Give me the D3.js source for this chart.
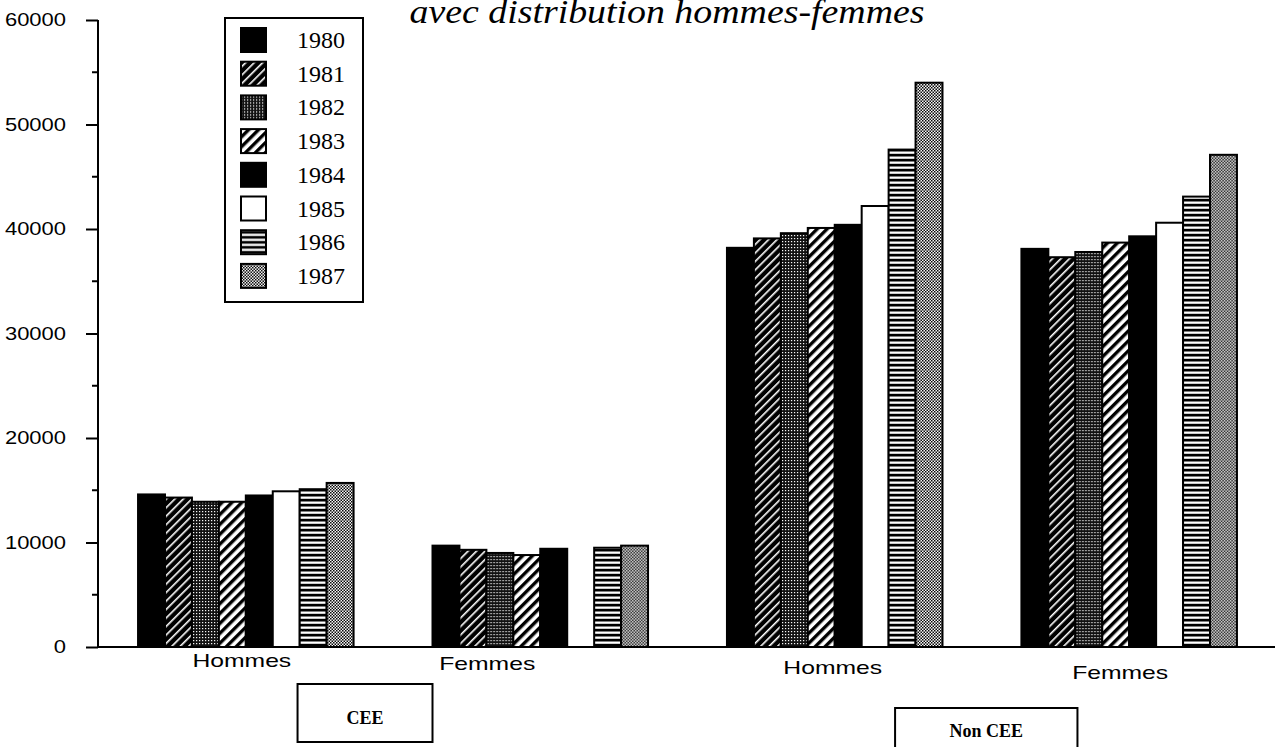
<!DOCTYPE html>
<meta charset="utf-8">
<style>
    body { margin: 0; background: #fff; }
    .axis path, .axis line { stroke: #000; stroke-width: 2px; }
    .axis text { font-family: Arial, "Liberation Sans", sans-serif; font-size: 18px; fill: #000; }
    .bar { stroke: #000; stroke-width: 2px; }
</style>
<svg width="1281" height="747"></svg>
<script src="https://d3js.org/d3.v7.min.js"></script>
<script>
    // values
    var groups = ["CEE Hommes", "CEE Femmes", "Non CEE Hommes", "Non CEE Femmes"];
    var years = ["1980", "1981", "1982", "1983", "1984", "1985", "1986", "1987"];
    var ceeHommes    = [14600, 14300, 13900, 13900, 14500, 14900, 15100, 15700];
    var ceeFemmes    = [9700, 9300, 9000, 8800, 9400, null, 9500, 9700];
    var nonCeeHommes = [38200, 39100, 39600, 40100, 40400, 42200, 47600, 54000];
    var nonCeeFemmes = [38100, 37300, 37800, 38700, 39300, 40600, 43100, 47100];
    var groupLabels = ["Hommes", "Femmes", "Hommes", "Femmes"];
    var yTicks = [0, 10000, 20000, 30000, 40000, 50000, 60000];

    var series = [ceeHommes, ceeFemmes, nonCeeHommes, nonCeeFemmes];

    var svg = d3.select("svg");
    var defs = svg.append("defs");

    // fill patterns, one per year
    function hatch(id, bg, fg, size, w) {
        var p = defs.append("pattern").attr("id", id)
            .attr("patternUnits", "userSpaceOnUse")
            .attr("width", size).attr("height", size)
            .attr("patternTransform", "rotate(45)");
        p.append("rect").attr("width", size).attr("height", size).attr("fill", bg);
        p.append("rect").attr("x", 0).attr("width", w).attr("height", size).attr("fill", fg);
    }
    hatch("p1981", "#000", "#fff", 6, 1.6);
    hatch("p1983", "#fff", "#000", 7, 3.4);

    var p82 = defs.append("pattern").attr("id", "p1982")
        .attr("patternUnits", "userSpaceOnUse").attr("width", 3).attr("height", 3);
    p82.append("rect").attr("width", 3).attr("height", 3).attr("fill", "#111");
    p82.append("rect").attr("x", 1).attr("y", 1).attr("width", 1.2).attr("height", 1.2).attr("fill", "#fff");

    var p86 = defs.append("pattern").attr("id", "p1986")
        .attr("patternUnits", "userSpaceOnUse").attr("width", 5).attr("height", 5);
    p86.append("rect").attr("width", 5).attr("height", 5).attr("fill", "#000");
    p86.append("rect").attr("y", 1.5).attr("width", 5).attr("height", 2.3).attr("fill", "#fff");

    var p87 = defs.append("pattern").attr("id", "p1987")
        .attr("patternUnits", "userSpaceOnUse").attr("width", 3).attr("height", 3);
    p87.append("rect").attr("width", 3).attr("height", 3).attr("fill", "#fff");
    p87.append("rect").attr("width", 1.5).attr("height", 1.5).attr("fill", "#000");
    p87.append("rect").attr("x", 1.5).attr("y", 1.5).attr("width", 1.5).attr("height", 1.5).attr("fill", "#000");

    var fills = ["#000", "url(#p1981)", "url(#p1982)", "url(#p1983)", "#000", "#fff", "url(#p1986)", "url(#p1987)"];

    var x0 = d3.scaleBand().domain(groups).range([98, 1277]).paddingInner(0.268).paddingOuter(0.136);
    var x1 = d3.scaleBand().domain(years).range([0, x0.bandwidth()]);
    var y = d3.scaleLinear().domain([0, 60000]).range([647, 20]);
    var color = d3.scaleOrdinal().domain(years).range(fills);

    // stretch helvetica-ish labels like the scan
    function widen(sel, k) {
        sel.each(function() {
            var w = this.getComputedTextLength();
            d3.select(this).attr("textLength", w * k).attr("lengthAdjust", "spacingAndGlyphs");
        });
    }

    // title, its top is cut off by the page edge
    svg.append("text")
        .attr("x", 667).attr("y", 23)
        .attr("text-anchor", "middle")
        .attr("font-family", "'Liberation Serif', 'Times New Roman', serif")
        .attr("font-style", "italic")
        .attr("font-size", 34)
        .attr("textLength", 515)
        .attr("lengthAdjust", "spacingAndGlyphs")
        .text("avec distribution hommes-femmes");

    // bars
    var g = svg.selectAll(".grp")
        .data(groups)
        .enter().append("g")
        .attr("class", "grp")
        .attr("transform", function(d) { return "translate(" + x0(d) + ",0)"; });

    g.selectAll("rect")
        .data(function(d, i) {
            return years.map(function(yr, j) { return { year: yr, value: series[i][j] }; })
                .filter(function(e) { return e.value != null; });
        })
        .enter().append("rect")
        .attr("class", "bar")
        .attr("x", function(d) { return x1(d.year); })
        .attr("y", function(d) { return y(d.value); })
        .attr("width", x1.bandwidth())
        .attr("height", function(d) { return y(0) - y(d.value); })
        .attr("fill", function(d) { return color(d.year); });

    // y axis with minor ticks
    var yAxis = svg.append("g")
        .attr("class", "axis")
        .attr("transform", "translate(98,0)")
        .call(d3.axisLeft(y).tickValues(yTicks).tickSize(12).tickPadding(20).tickFormat(d3.format("d")));
    yAxis.select(".domain").attr("d", "M0," + y(60000) + "V" + y(0));
    yAxis.selectAll("text").call(widen, 1.22);

    svg.append("g")
        .selectAll("line")
        .data(d3.range(5000, 60000, 10000))
        .enter().append("line")
        .attr("x1", 92).attr("x2", 98)
        .attr("y1", function(d) { return y(d); })
        .attr("y2", function(d) { return y(d); })
        .attr("stroke", "#000").attr("stroke-width", 2);

    // x axis line
    svg.append("line")
        .attr("x1", 97).attr("x2", 1275)
        .attr("y1", y(0)).attr("y2", y(0))
        .attr("stroke", "#000").attr("stroke-width", 2);

    // group labels under the bars
    var labelDx = [-4, -53, -2, -9];
    var labelY = [667, 670, 674, 679];
    svg.selectAll(".glabel")
        .data(groupLabels)
        .enter().append("text")
        .attr("class", "glabel")
        .attr("x", function(d, i) { return x0(groups[i]) + x0.bandwidth() / 2 + labelDx[i]; })
        .attr("y", function(d, i) { return labelY[i]; })
        .attr("text-anchor", "middle")
        .style("font", "19px Arial, 'Liberation Sans', sans-serif")
        .text(function(d) { return d; })
        .call(widen, 1.3);

    // CEE / Non CEE boxes
    var boxes = [
        { label: "CEE", x: x0(groups[0]) + x0.bandwidth() * 0.74, x2: x0(groups[1]), y: 684, h: 58, ty: 40 },
        { label: "Non CEE", x: x0(groups[2]) + x0.bandwidth() * 0.78, x2: x0(groups[3]) + x0.bandwidth() * 0.26, y: 708, h: 60, ty: 29 }
    ];
    var bx = svg.selectAll(".box").data(boxes).enter().append("g").attr("class", "box");
    bx.append("rect")
        .attr("x", function(d) { return d.x; })
        .attr("y", function(d) { return d.y; })
        .attr("width", function(d) { return d.x2 - d.x; })
        .attr("height", function(d) { return d.h; })
        .attr("fill", "none").attr("stroke", "#000").attr("stroke-width", 2);
    bx.append("text")
        .attr("x", function(d) { return (d.x + d.x2) / 2; })
        .attr("y", function(d) { return d.y + d.ty; })
        .attr("text-anchor", "middle")
        .style("font", "bold 18px 'Liberation Serif', 'Times New Roman', serif")
        .text(function(d) { return d.label; });

    // legend
    var legend = svg.append("g").attr("transform", "translate(225,18)");
    legend.append("rect")
        .attr("width", 138).attr("height", 284)
        .attr("fill", "#fff").attr("stroke", "#000").attr("stroke-width", 2);
    var item = legend.selectAll(".item")
        .data(years)
        .enter().append("g")
        .attr("class", "item")
        .attr("transform", function(d, i) { return "translate(0," + (22 + i * 33.7) + ")"; });
    item.append("rect")
        .attr("x", 16).attr("y", -12)
        .attr("width", 25).attr("height", 24)
        .attr("fill", function(d) { return color(d); })
        .attr("stroke", "#000").attr("stroke-width", 2);
    item.append("text")
        .attr("x", 72).attr("y", 8)
        .style("font", "24px 'Liberation Serif', 'Times New Roman', serif")
        .text(function(d) { return d; });
</script>
